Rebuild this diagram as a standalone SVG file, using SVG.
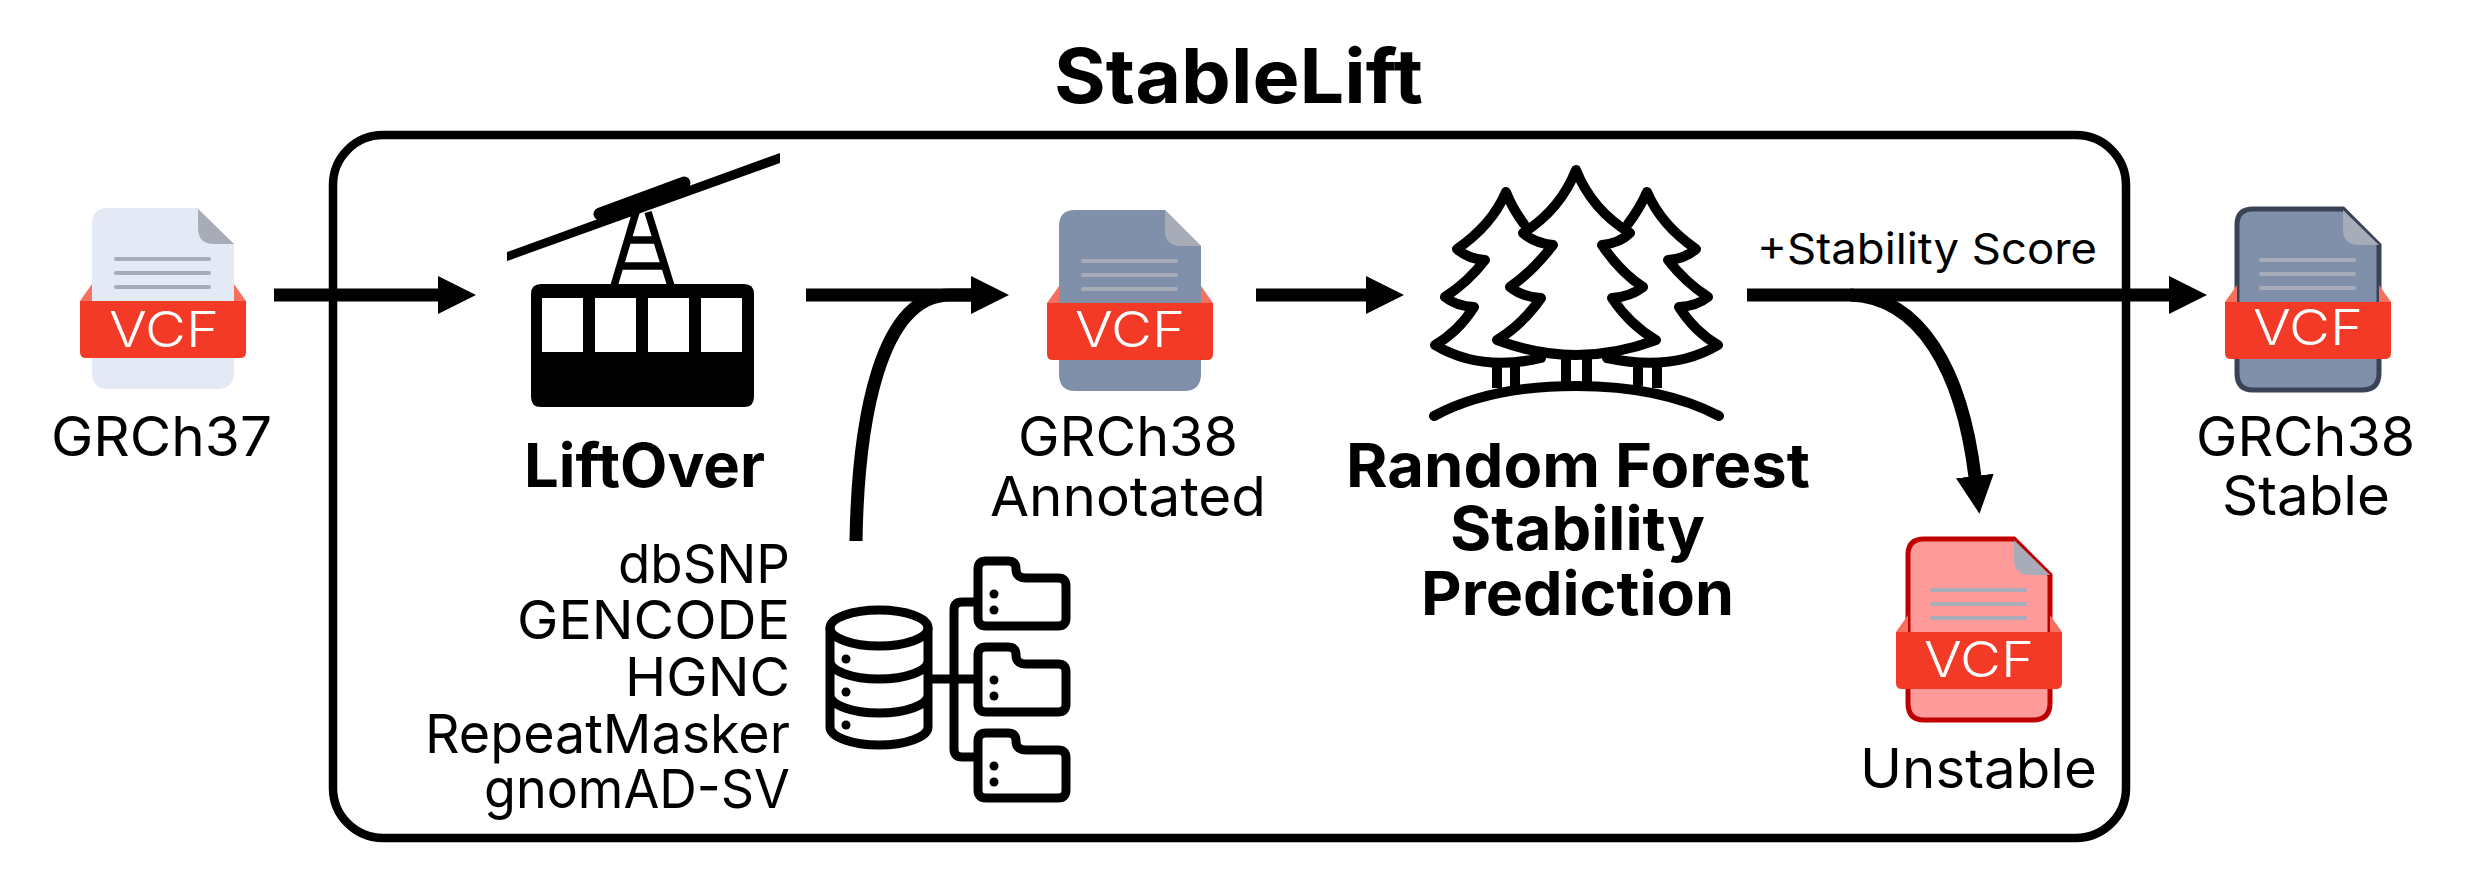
<svg xmlns="http://www.w3.org/2000/svg" width="2470" height="875" viewBox="0 0 2470 875">
<style>
text{font-family:"Inter","Liberation Sans",sans-serif;fill:#000}
.lab{font-size:55px;font-weight:400}
.src{font-size:54px;font-weight:400}
.bold{font-size:61px;font-weight:700}
.title{font-size:75px;font-weight:700}
.score{font-size:43px;font-weight:400}
.vcf{font-size:49px;font-weight:300;fill:#fff}
.band{fill:#F23A26}
.flap{fill:#F7705F}
.fold{fill:#A7ACB8}
.ln{stroke:#A7ACB8;stroke-width:4;stroke-linecap:round;fill:none}
.light{fill:#E3E9F5}
.slate{fill:#8090AB}
.slateo{fill:#8090AB;stroke:#3A4356;stroke-width:5}
.redo{fill:#FF9A9A;stroke:#C00000;stroke-width:5}
.sh{fill:none;stroke:#000;stroke-width:13}
.ico{fill:none;stroke:#000;stroke-width:9;stroke-linejoin:round;stroke-linecap:round}
.tree{fill:none;stroke:#000;stroke-width:10;stroke-linejoin:round;stroke-linecap:round}
.trunk{fill:none;stroke:#000;stroke-width:10}
</style>
<defs>
<marker id="head" markerUnits="userSpaceOnUse" markerWidth="38" markerHeight="38" refX="1" refY="19" orient="auto">
<path d="M0 0L38 19L0 38Z" fill="#000"/>
</marker>
<path id="doc" d="M16 0H106L142 36V164Q142 181 125 181H16Q0 181 0 164V16Q0 0 16 0Z"/>
<path id="foldp" d="M106 1L142 36H122Q106 36 106 20Z"/>
<path id="lines" d="M24 51H117M24 65H117M24 79H117"/>
<path id="flaps" d="M-12 93L0 76V93ZM154 93L142 76V93Z"/>
<path id="bandp" d="M-12 93H154V144Q154 150 148 150H-6Q-12 150 -12 144Z"/>
</defs>

<g id="title"><text class="title" x="1054" y="103" textLength="369" lengthAdjust="spacingAndGlyphs">StableLift</text></g>

<g id="stablelift-box"><rect x="333" y="135" width="1793" height="703" rx="50" ry="50" fill="none" stroke="#000" stroke-width="8.5"/></g>

<g id="connectors">
<path class="sh" d="M274 295H439" marker-end="url(#head)"/>
<path class="sh" d="M806 295H972" marker-end="url(#head)"/>
<path class="sh" d="M856 541C858 420 880 295 950 295H972"/>
<path class="sh" d="M1256 295H1367" marker-end="url(#head)"/>
<path class="sh" d="M1747 295H2170" marker-end="url(#head)"/>
<path class="sh" d="M1850 295C1920 297 1962 370 1975 477" marker-end="url(#head)"/>
</g>

<g id="grch37" transform="translate(92 208)">
<use href="#doc" class="light"/><use href="#foldp" class="fold"/><use href="#lines" class="ln"/><use href="#flaps" class="flap"/><use href="#bandp" class="band"/>
<text class="vcf" x="17" y="139" textLength="110" lengthAdjust="spacingAndGlyphs">VCF</text>
<text class="lab" x="-41" y="248" textLength="221" lengthAdjust="spacingAndGlyphs">GRCh37</text>
</g>

<g id="liftover">
<path d="M507 252L780 153V163L507 261Z" fill="#000"/>
<path d="M600 214L684 183" stroke="#000" stroke-width="13" stroke-linecap="round" fill="none"/>
<path d="M636 212L614 286M648 212L671 286M628 240H657M621 266H664" stroke="#000" stroke-width="7.5" fill="none"/>
<path fill="#000" fill-rule="evenodd" d="M541 284H744Q754 284 754 294V397Q754 407 744 407H541Q531 407 531 397V294Q531 284 541 284ZM542 298V352H583V298ZM595 298V352H636V298ZM648 298V352H689V298ZM701 298V352H742V298Z"/>
<text class="bold" x="524" y="487" textLength="241" lengthAdjust="spacingAndGlyphs">LiftOver</text>
</g>

<g id="databases">
<text class="src" x="790" y="583" text-anchor="end" textLength="172" lengthAdjust="spacingAndGlyphs">dbSNP</text>
<text class="src" x="790" y="639" text-anchor="end" textLength="273" lengthAdjust="spacingAndGlyphs">GENCODE</text>
<text class="src" x="790" y="696" text-anchor="end" textLength="165" lengthAdjust="spacingAndGlyphs">HGNC</text>
<text class="src" x="790" y="753" text-anchor="end" textLength="365" lengthAdjust="spacingAndGlyphs">RepeatMasker</text>
<text class="src" x="790" y="808" text-anchor="end" textLength="306" lengthAdjust="spacingAndGlyphs">gnomAD-SV</text>
<ellipse class="ico" cx="879" cy="628" rx="49" ry="18"/>
<path class="ico" d="M830 628V727A49 18 0 0 0 928 727V628M830 661A49 18 0 0 0 928 661M830 695A49 18 0 0 0 928 695"/>
<circle cx="846" cy="659" r="4.5"/><circle cx="846" cy="692" r="4.5"/><circle cx="846" cy="725" r="4.5"/>
<path class="ico" stroke-linecap="butt" d="M932 679H976M976 602H962Q954 602 954 610V749Q954 757 962 757H976"/>
<g id="folder-1"><path class="ico" d="M986 561H1008Q1016 561 1016 569Q1016 578 1026 578H1058Q1066 578 1066 586V618Q1066 626 1058 626H986Q978 626 978 618V569Q978 561 986 561Z"/><circle cx="994" cy="594" r="4.5"/><circle cx="994" cy="610" r="4.5"/></g>
<g id="folder-2" transform="translate(0 86)"><path class="ico" d="M986 561H1008Q1016 561 1016 569Q1016 578 1026 578H1058Q1066 578 1066 586V618Q1066 626 1058 626H986Q978 626 978 618V569Q978 561 986 561Z"/><circle cx="994" cy="594" r="4.5"/><circle cx="994" cy="610" r="4.5"/></g>
<g id="folder-3" transform="translate(0 172)"><path class="ico" d="M986 561H1008Q1016 561 1016 569Q1016 578 1026 578H1058Q1066 578 1066 586V618Q1066 626 1058 626H986Q978 626 978 618V569Q978 561 986 561Z"/><circle cx="994" cy="594" r="4.5"/><circle cx="994" cy="610" r="4.5"/></g>
</g>

<g id="grch38-annotated" transform="translate(1059 210)">
<use href="#doc" class="slate"/><use href="#foldp" class="fold"/><use href="#lines" class="ln"/><use href="#flaps" class="flap"/><use href="#bandp" class="band"/>
<text class="vcf" x="16" y="137" textLength="110" lengthAdjust="spacingAndGlyphs">VCF</text>
<text class="lab" x="-41" y="246" textLength="220" lengthAdjust="spacingAndGlyphs">GRCh38</text>
<text class="lab" x="-69" y="306" textLength="276" lengthAdjust="spacingAndGlyphs">Annotated</text>
</g>

<g id="random-forest">
<path class="tree" d="M1576 170Q1592 210 1630 233Q1620 243 1602 245Q1620 272 1643 287Q1630 297 1612 298Q1630 325 1656 340Q1576 370 1497 340Q1522 325 1541 298Q1522 297 1510 287Q1532 272 1553 245Q1534 243 1523 233Q1560 210 1576 170Z"/>
<path class="tree" d="M1524 224Q1512 208 1506 192Q1492 225 1457 249Q1468 259 1485 260Q1468 282 1445 297Q1456 306 1474 307Q1458 332 1435 345Q1480 372 1541 358"/>
<path class="tree" d="M1628 224Q1640 208 1647 192Q1661 225 1696 249Q1685 259 1668 260Q1685 282 1708 297Q1697 306 1679 307Q1695 332 1718 345Q1673 372 1607 358"/>
<path class="trunk" d="M1497 363V388M1515 363V386M1566 358V384M1587 358V384M1638 363V386M1657 363V388"/>
<path class="tree" d="M1434 416Q1490 386 1576 386Q1662 386 1719 416"/>
<text class="bold" x="1346" y="487" textLength="464" lengthAdjust="spacingAndGlyphs">Random Forest</text>
<text class="bold" x="1450" y="550" textLength="255" lengthAdjust="spacingAndGlyphs">Stability</text>
<text class="bold" x="1421" y="615" textLength="313" lengthAdjust="spacingAndGlyphs">Prediction</text>
</g>

<g id="score-label"><text class="score" x="1757" y="264" textLength="340" lengthAdjust="spacingAndGlyphs">+Stability Score</text></g>

<g id="grch38-stable" transform="translate(2237 209)">
<use href="#doc" class="slateo"/><use href="#foldp" class="fold"/><use href="#lines" class="ln"/><use href="#flaps" class="flap"/><use href="#bandp" class="band"/>
<text class="vcf" x="16" y="136" textLength="110" lengthAdjust="spacingAndGlyphs">VCF</text>
<text class="lab" x="-41" y="247" textLength="219" lengthAdjust="spacingAndGlyphs">GRCh38</text>
<text class="lab" x="-15" y="306" textLength="168" lengthAdjust="spacingAndGlyphs">Stable</text>
</g>

<g id="unstable" transform="translate(1908 539)">
<use href="#doc" class="redo"/><use href="#foldp" class="fold"/><use href="#lines" class="ln"/><use href="#flaps" class="flap"/><use href="#bandp" class="band"/>
<text class="vcf" x="16" y="138" textLength="110" lengthAdjust="spacingAndGlyphs">VCF</text>
<text class="lab" x="-48" y="249" textLength="237" lengthAdjust="spacingAndGlyphs">Unstable</text>
</g>
</svg>
